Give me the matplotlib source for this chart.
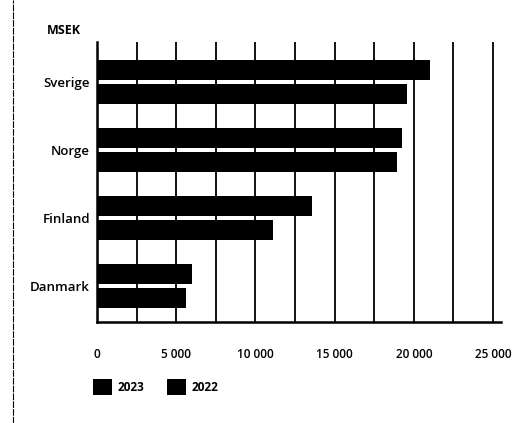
import matplotlib.pyplot as plt
import numpy as np
from matplotlib.lines import Line2D

# Data (MSEK)
countries = ["Sverige", "Norge", "Finland", "Danmark"]
values_2023 = [21000, 19250, 13550, 6000]
values_2022 = [19550, 18950, 11100, 5600]
series_labels = ["2023", "2022"]
tick_values = [0, 5000, 10000, 15000, 20000, 25000]
tick_labels = ["0", "5 000", "10 000", "15 000", "20 000", "25 000"]

plt.rcParams["font.family"] = ["Open Sans", "DejaVu Sans"]

fig = plt.figure(figsize=(5.29, 4.23), dpi=100)
ax = fig.add_axes([0.1834, 0.2388, 0.7636, 0.6619])

# Categories from top to bottom
y = np.arange(len(countries))[::-1]
bar_h = 0.29
offset = 0.176

ax.barh(y + offset, values_2023, height=bar_h, color="black", label=series_labels[0], zorder=3)
ax.barh(y - offset, values_2022, height=bar_h, color="black", label=series_labels[1], zorder=3)

ax.set_xlim(0, 25500)
ax.set_ylim(-0.53, 3.59)

# Vertical grid lines every 2 500
ax.set_xticks(tick_values)
ax.set_xticklabels(tick_labels, fontsize=8.5, fontweight="semibold")
ax.set_xticks(np.arange(2500, 25001, 2500), minor=True)
ax.grid(True, axis="x", which="both", color="black", linewidth=1.3)
ax.tick_params(axis="x", which="both", length=0, pad=19)

ax.set_yticks(y)
ax.set_yticklabels(countries, fontsize=9.5, fontweight="semibold")
ax.tick_params(axis="y", length=0, pad=5)

for side in ["top", "right"]:
    ax.spines[side].set_visible(False)
ax.spines["left"].set_linewidth(1.8)
ax.spines["bottom"].set_linewidth(1.8)

fig.text(47 / 529, 1 - 30 / 423, "MSEK", fontsize=9, fontweight="bold", va="center", ha="left")

ax.legend(
    loc="center left",
    bbox_to_anchor=(82 / 529, 1 - 387 / 423),
    bbox_transform=fig.transFigure,
    ncol=2,
    frameon=False,
    handlelength=1.65,
    handleheight=1.65,
    handletextpad=0.45,
    columnspacing=1.9,
    prop={"size": 8.5, "weight": "bold"},
)

# faint left edge of the scanned page
fig.add_artist(Line2D([13 / 529, 13 / 529], [0, 1], transform=fig.transFigure,
                      color="black", linewidth=0.8, linestyle=(0, (6, 1))))

fig.savefig("out.png", dpi=100)
